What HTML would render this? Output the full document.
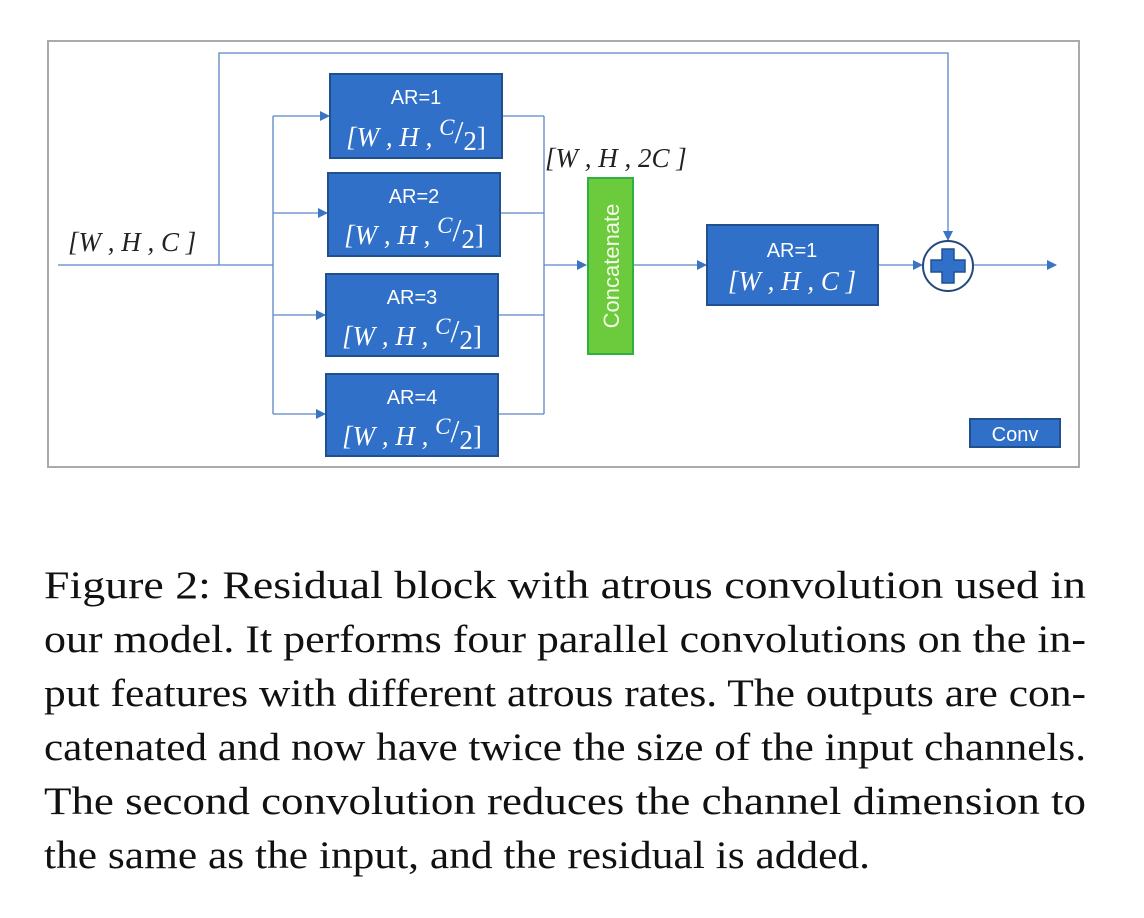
<!DOCTYPE html>
<html><head><meta charset="utf-8"><style>
html,body{margin:0;padding:0;background:#fff;}
svg{display:block;}
.m{font-family:"Liberation Serif",serif;font-style:italic;}
.s{font-family:"Liberation Sans",sans-serif;}
.cap{font-family:"Liberation Serif",serif;font-size:39px;fill:#111;}
</style></head><body>
<svg width="1144" height="918" viewBox="0 0 1144 918" xmlns="http://www.w3.org/2000/svg">
<defs>
<marker id="a" markerWidth="10" markerHeight="10" refX="9" refY="5" orient="auto" markerUnits="userSpaceOnUse">
<path d="M0,0 L10,5 L0,10 Z" fill="#3c74c4"/></marker>
</defs>
<rect x="48" y="41" width="1031" height="426" fill="#fff" stroke="#aaa" stroke-width="2"/>
<g stroke="#5b86c7" stroke-width="1.3" fill="none">
<polyline points="58,265 273,265"/>
<polyline points="219,265 219,53 948,53 948,240" marker-end="url(#a)"/>
<line x1="273" y1="116" x2="273" y2="414"/>
<line x1="273" y1="116" x2="329" y2="116" marker-end="url(#a)"/>
<line x1="273" y1="213" x2="327" y2="213" marker-end="url(#a)"/>
<line x1="273" y1="315" x2="325" y2="315" marker-end="url(#a)"/>
<line x1="273" y1="414" x2="325" y2="414" marker-end="url(#a)"/>
<line x1="502" y1="116" x2="544" y2="116"/>
<line x1="500" y1="213" x2="544" y2="213"/>
<line x1="498" y1="315" x2="544" y2="315"/>
<line x1="498" y1="414" x2="544" y2="414"/>
<line x1="544" y1="116" x2="544" y2="414"/>
<line x1="544" y1="265" x2="586" y2="265" marker-end="url(#a)"/>
<line x1="633" y1="265" x2="706" y2="265" marker-end="url(#a)"/>
<line x1="878" y1="265" x2="922" y2="265" marker-end="url(#a)"/>
<line x1="974" y1="265" x2="1056" y2="265" marker-end="url(#a)"/>
</g>
<text x="68" y="251" class="m" font-size="27" fill="#222">[W , H , C ]</text>
<text x="545" y="167" class="m" font-size="27" fill="#222">[W , H , 2C ]</text>
<g fill="#3070c8" stroke="#21508f" stroke-width="2">
<rect x="330" y="74" width="172" height="84"/>
<rect x="328" y="173" width="172" height="83"/>
<rect x="326" y="274" width="172" height="82"/>
<rect x="326" y="374" width="172" height="82"/>
<rect x="707" y="225" width="171" height="80"/>
<rect x="970" y="419" width="90" height="28"/>
</g>
<g fill="#fff" text-anchor="middle">
<text x="416" y="104" class="s" font-size="20">AR=1</text>
<text x="414" y="203" class="s" font-size="20">AR=2</text>
<text x="412" y="304" class="s" font-size="20">AR=3</text>
<text x="412" y="404" class="s" font-size="20">AR=4</text>
<text x="792" y="257" class="s" font-size="20">AR=1</text>
<text x="792" y="290" class="m" font-size="27">[W , H , C ]</text>
<text x="1015" y="441" class="s" font-size="20">Conv</text>
</g>
<g fill="#fff" class="m">
<text x="416" y="146" font-size="27" text-anchor="middle">[W , H , <tspan font-size="23" dy="-11">C</tspan><tspan font-style="normal" font-size="32" dy="8">/</tspan><tspan font-style="normal" font-size="27" dy="7">2</tspan><tspan dy="-4" font-style="normal">]</tspan></text>
<text x="414" y="244" font-size="27" text-anchor="middle">[W , H , <tspan font-size="23" dy="-11">C</tspan><tspan font-style="normal" font-size="32" dy="8">/</tspan><tspan font-style="normal" font-size="27" dy="7">2</tspan><tspan dy="-4" font-style="normal">]</tspan></text>
<text x="412" y="345" font-size="27" text-anchor="middle">[W , H , <tspan font-size="23" dy="-11">C</tspan><tspan font-style="normal" font-size="32" dy="8">/</tspan><tspan font-style="normal" font-size="27" dy="7">2</tspan><tspan dy="-4" font-style="normal">]</tspan></text>
<text x="412" y="445" font-size="27" text-anchor="middle">[W , H , <tspan font-size="23" dy="-11">C</tspan><tspan font-style="normal" font-size="32" dy="8">/</tspan><tspan font-style="normal" font-size="27" dy="7">2</tspan><tspan dy="-4" font-style="normal">]</tspan></text>
</g>
<rect x="588" y="178" width="45" height="176" fill="#6ccb3c" stroke="#2fb040" stroke-width="2"/>
<text transform="translate(619,266) rotate(-90)" class="s" font-size="22" fill="#f2fbe8" text-anchor="middle">Concatenate</text>
<circle cx="948" cy="266" r="25" fill="#fff" stroke="#24487e" stroke-width="2"/>
<path d="M942,249 h12 v11 h11 v12 h-11 v11 h-12 v-11 h-11 v-12 h11 Z" fill="#3070c8" stroke="#21508f" stroke-width="1.5"/>
<text x="44" y="598" class="cap" textLength="1042" lengthAdjust="spacingAndGlyphs">Figure 2: Residual block with atrous convolution used in</text>
<text x="44" y="652" class="cap" textLength="1042" lengthAdjust="spacingAndGlyphs">our model. It performs four parallel convolutions on the in-</text>
<text x="44" y="706" class="cap" textLength="1042" lengthAdjust="spacingAndGlyphs">put features with different atrous rates. The outputs are con-</text>
<text x="44" y="760" class="cap" textLength="1042" lengthAdjust="spacingAndGlyphs">catenated and now have twice the size of the input channels.</text>
<text x="44" y="814" class="cap" textLength="1042" lengthAdjust="spacingAndGlyphs">The second convolution reduces the channel dimension to</text>
<text x="44" y="868" class="cap" textLength="826" lengthAdjust="spacingAndGlyphs">the same as the input, and the residual is added.</text>
</svg>
</body></html>
